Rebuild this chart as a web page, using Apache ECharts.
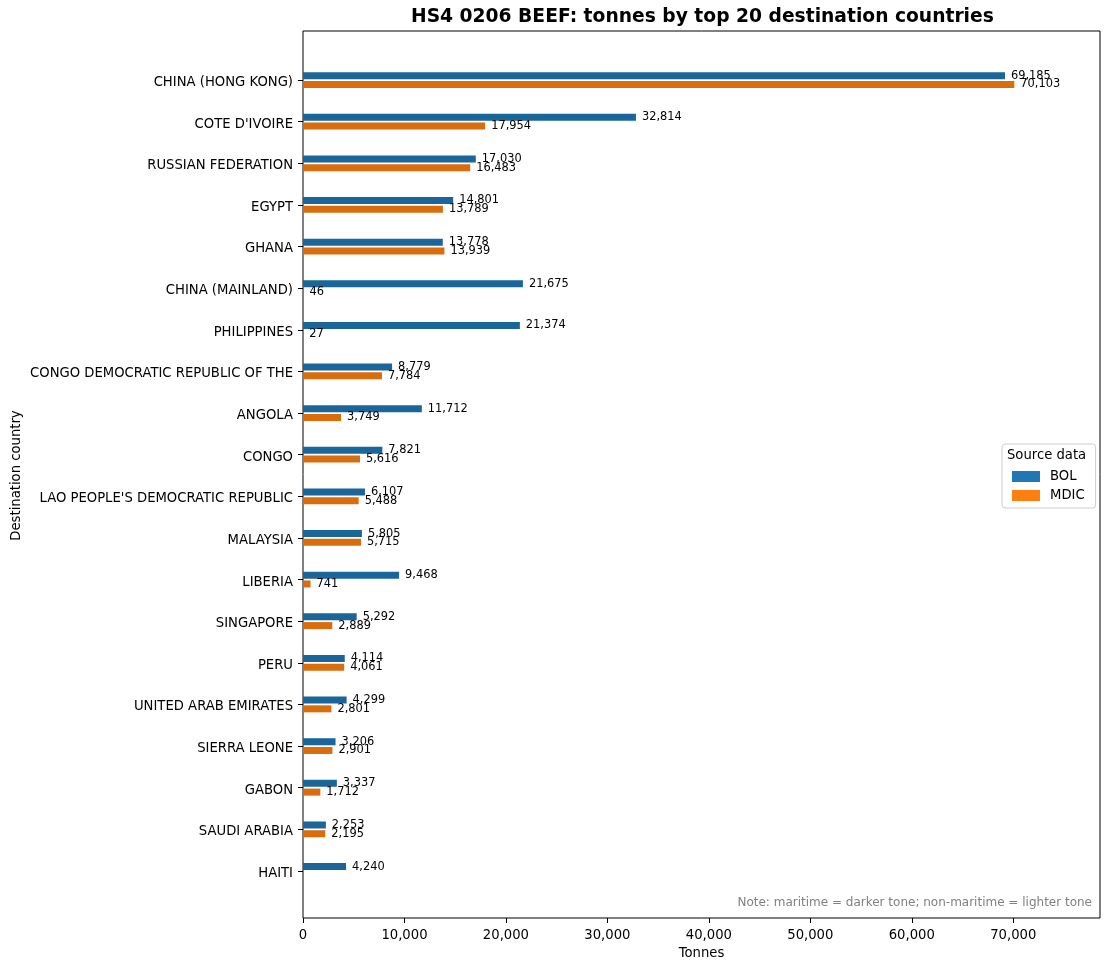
<!DOCTYPE html>
<html>
<head>
<meta charset="utf-8">
<script src="https://cdn.jsdelivr.net/npm/echarts@6/dist/echarts.min.js"></script>
<style>
html,body{margin:0;padding:0;background:#fff;}
#chart{width:1109px;height:969px;}
</style>
</head>
<body>
<div id="chart"></div>
<script>
const categories = [
  "CHINA (HONG KONG)", "COTE D'IVOIRE", "RUSSIAN FEDERATION", "EGYPT", "GHANA",
  "CHINA (MAINLAND)", "PHILIPPINES", "CONGO DEMOCRATIC REPUBLIC OF THE", "ANGOLA", "CONGO",
  "LAO PEOPLE'S DEMOCRATIC REPUBLIC", "MALAYSIA", "LIBERIA", "SINGAPORE", "PERU",
  "UNITED ARAB EMIRATES", "SIERRA LEONE", "GABON", "SAUDI ARABIA", "HAITI"
];
const bolValues = [69185, 32814, 17030, 14801, 13778, 21675, 21374, 8779, 11712, 7821,
  6107, 5805, 9468, 5292, 4114, 4299, 3206, 3337, 2253, 4240];
const mdicValues = [70103, 17954, 16483, 13789, 13939, 46, 27, 7784, 3749, 5616,
  5488, 5715, 741, 2889, 4061, 2801, 2901, 1712, 2195, null];
const xTickInterval = 10000;
const xMax = 78550;

const FONT = "DejaVu Sans";
const fmt = v => Number(v).toLocaleString('en-US');
const BOL_DARK = '#1a6599', MDIC_DARK = '#d96c0c';
const BOL_LIGHT = '#1f77b4', MDIC_LIGHT = '#ff7f0e';

const chart = echarts.init(document.getElementById('chart'), null, {renderer: 'canvas'});
const labelOpt = {
  show: true, position: 'right', distance: 6, fontSize: 11.4, fontFamily: FONT, color: '#000',
  formatter: p => fmt(p.value)
};
chart.setOption({
  animation: false,
  backgroundColor: '#fff',
  title: [
    {text: 'HS4 0206 BEEF: tonnes by top 20 destination countries', left: 411, top: 8, padding: 0,
     textStyle: {fontFamily: FONT, fontSize: 18.7, fontWeight: 'bold', color: '#000'}},
    {text: 'Source data', left: 1007, top: 449, padding: 0, z: 10,
     textStyle: {fontFamily: FONT, fontSize: 13.2, fontWeight: 'normal', color: '#000'}},
    {text: 'Note: maritime = darker tone; non-maritime = lighter tone', right: 17, top: 897, padding: 0,
     textStyle: {fontFamily: FONT, fontSize: 12, fontWeight: 'normal', color: '#808080'}}
  ],
  legend: {
    orient: 'vertical', left: 1002, top: 444,
    padding: [26, 11, 6, 10],
    backgroundColor: '#fff', borderColor: '#cccccc', borderWidth: 1, borderRadius: 3,
    itemWidth: 28, itemHeight: 11, itemGap: 6, icon: 'rect',
    textStyle: {fontFamily: FONT, fontSize: 13.2, color: '#000', padding: [0, 0, 0, 5]},
    data: [
      {name: 'BOL', itemStyle: {color: BOL_LIGHT}},
      {name: 'MDIC', itemStyle: {color: MDIC_LIGHT}}
    ]
  },
  grid: [
    {left: 303, right: 9, top: 31, bottom: 51, show: true, borderColor: '#000', borderWidth: 1,
     backgroundColor: 'transparent', containLabel: false, outerBoundsMode: 'none'},
    {left: 303, right: 9, top: 59.2, bottom: 77.2, show: false, containLabel: false, outerBoundsMode: 'none'}
  ],
  xAxis: [{
    gridIndex: 1, type: 'value', position: 'bottom', offset: 26.2,
    min: 0, max: xMax, interval: xTickInterval,
    name: 'Tonnes', nameLocation: 'middle', nameGap: 29, nameMoveOverlap: false,
    nameTextStyle: {fontFamily: FONT, fontSize: 13.2, color: '#000'},
    axisLine: {show: false},
    axisTick: {show: true, length: 5, lineStyle: {color: '#000'}},
    axisLabel: {fontFamily: FONT, fontSize: 13.2, color: '#000', margin: 11, showMaxLabel: false,
      formatter: v => fmt(v)},
    splitLine: {show: false}
  }],
  yAxis: [{
    gridIndex: 1, type: 'category', data: categories, inverse: true,
    name: 'Destination country', nameLocation: 'middle', nameGap: 280, nameRotate: 90,
    nameMoveOverlap: false,
    nameTextStyle: {fontFamily: FONT, fontSize: 13.2, color: '#000'},
    axisLine: {show: false},
    axisTick: {show: true, alignWithLabel: true, length: 5, lineStyle: {color: '#000'}},
    axisLabel: {fontFamily: FONT, fontSize: 13.2, color: '#000', margin: 10,
      verticalAlign: 'top', lineHeight: 5}
  }],
  series: [
    {name: 'BOL', type: 'bar', xAxisIndex: 0, yAxisIndex: 0, data: bolValues,
     barWidth: 7, barGap: '25%', itemStyle: {color: BOL_DARK}, label: labelOpt},
    {name: 'MDIC', type: 'bar', xAxisIndex: 0, yAxisIndex: 0, data: mdicValues,
     barWidth: 7, barGap: '25%', itemStyle: {color: MDIC_DARK}, label: labelOpt}
  ]
});
</script>
</body>
</html>
